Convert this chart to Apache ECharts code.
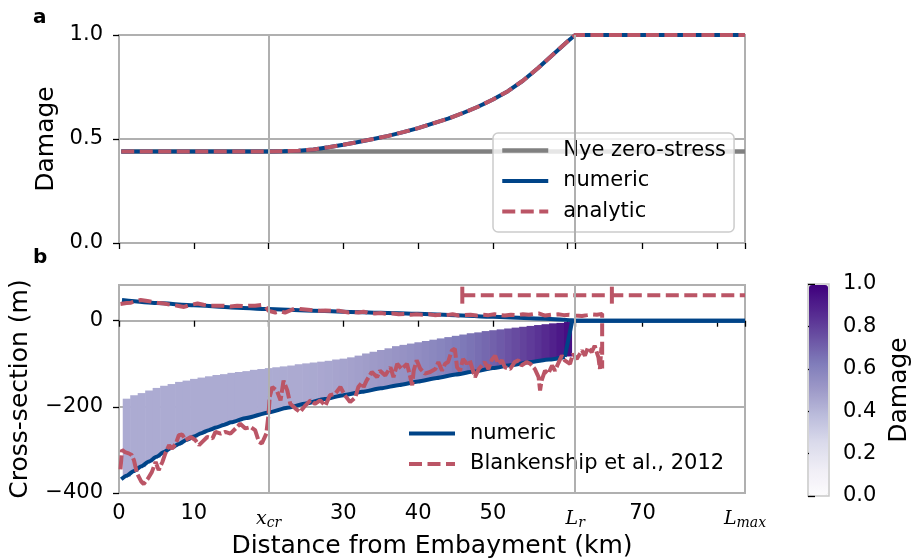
<!DOCTYPE html>
<html>
<head>
<meta charset="utf-8">
<script src="https://cdn.jsdelivr.net/npm/echarts@6/dist/echarts.min.js"></script>
<style>
html, body { margin: 0; padding: 0; background: #fff; }
#chart { width: 923px; height: 560px; }
</style>
</head>
<body>
<div id="chart"></div>
<script>
// x axis: km from embayment, with symbolic ticks
var xMax = 83.7;
var xTickValues = [0, 10, 20, 30, 40, 50, 60, 61, 70, 80, 83.7];
var xLabelValues = [0, 10, 20, 30, 40, 50, 61, 70, 83.7];
var xGridValues = [20, 61];          // x_cr, L_r
var symbolicLabels = { '20': '{i|x}{s|cr}', '61': '{i|L}{s|r}', '83.7': '{i|L}{s|max}' };

// panel a : damage
var damageX       = [0.3, 10, 20, 22, 24, 26, 28, 30, 32, 34, 36, 38, 40, 42, 44, 46, 48, 50, 52, 54, 56, 58, 60, 61, 83.7];
var damageNumeric = [0.44, 0.44, 0.44, 0.441, 0.444, 0.45, 0.46, 0.472, 0.486, 0.50, 0.515, 0.533, 0.552, 0.575, 0.598, 0.625, 0.655, 0.69, 0.73, 0.78, 0.84, 0.905, 0.97, 1.0, 1.0];
var damageAnalytic = [0.44, 0.44, 0.44, 0.441, 0.444, 0.45, 0.46, 0.472, 0.486, 0.50, 0.515, 0.533, 0.552, 0.575, 0.598, 0.625, 0.655, 0.69, 0.73, 0.78, 0.84, 0.905, 0.97, 1.0, 1.0];
var nyeX = [0.3, 83.7];
var nyeDamage = [0.44, 0.44];

// panel b : cross-section (m)
var surfX = [0.4, 5, 10, 15, 20, 25, 30, 35, 40, 45, 50, 55, 59, 60.5, 61, 83.7];
var surfY = [48, 41, 36, 31, 27, 24, 21, 18.5, 16, 13, 9, 6, 3, 1, 0, 0];
var baseX = [0.3, 1, 2, 3, 4, 5, 6, 7, 8, 9, 10, 11, 12, 13, 14, 15, 17, 20, 22.5, 25, 27.5, 30, 32.5, 35, 37.5, 40, 42.5, 45, 47.5, 50, 52.5, 55, 57.5, 59.6];
var baseY = [-368, -360, -349, -338, -327, -316, -305, -295, -286, -277, -269, -261, -254, -248, -242, -236, -226, -213, -202, -192, -182, -173, -165, -157, -149, -141, -133, -125, -118, -110, -103, -96, -90, -84];
var frontX = [59.6, 60.6, 83.7];
var frontY = [-84, 0, 0];

// damaged (crevassed) zone, one column per km
var colWidth = 1;
var fillX = [0.5, 1.5, 2.5, 3.5, 4.5, 5.5, 6.5, 7.5, 8.5, 9.5, 10.5, 11.5, 12.5, 13.5, 14.5, 15.5, 16.5, 17.5, 18.5, 19.5,
  20.5, 21.5, 22.5, 23.5, 24.5, 25.5, 26.5, 27.5, 28.5, 29.5, 30.5, 31.5, 32.5, 33.5, 34.5, 35.5, 36.5, 37.5, 38.5, 39.5,
  40.5, 41.5, 42.5, 43.5, 44.5, 45.5, 46.5, 47.5, 48.5, 49.5, 50.5, 51.5, 52.5, 53.5, 54.5, 55.5, 56.5, 57.5, 58.5, 59.5];
var fillTop = [-181, -173, -168, -162, -156, -151, -147, -142, -139, -135, -132, -129, -126, -124, -121, -119, -117, -114, -112, -110,
  -108, -106, -104, -101, -99, -97, -95, -93, -90, -88, -85, -81, -76, -72, -68, -64, -59, -56, -53, -50,
  -47, -44, -41, -38, -35, -32, -29, -27, -24, -22, -20, -18, -16, -14, -12, -10, -8, -6, -5, -3];
var fillBottom = [-362, -351, -340, -329, -318, -307, -297, -288, -279, -271, -263, -256, -249, -243, -237, -232, -227, -222, -217, -213,
  -209, -205, -201, -197, -193, -189, -185, -181, -178, -174, -171, -167, -164, -160, -157, -154, -151, -148, -145, -142,
  -139, -136, -133, -130, -127, -124, -121, -118, -115, -112, -109, -106, -103, -101, -98, -95, -92, -89, -86, -83];
var fillDamage = [0.44, 0.44, 0.44, 0.44, 0.44, 0.44, 0.44, 0.44, 0.44, 0.44, 0.44, 0.44, 0.44, 0.44, 0.44, 0.44, 0.44, 0.44, 0.44, 0.44,
  0.44, 0.44, 0.442, 0.443, 0.445, 0.448, 0.452, 0.457, 0.463, 0.469, 0.476, 0.483, 0.491, 0.499, 0.507, 0.515, 0.524, 0.534, 0.544, 0.555,
  0.567, 0.579, 0.592, 0.606, 0.620, 0.635, 0.651, 0.668, 0.686, 0.705, 0.725, 0.746, 0.768, 0.791, 0.815, 0.84, 0.866, 0.894, 0.923, 0.955];

// Blankenship et al., 2012 profile
var obsTopX = [0.2, 1.0, 1.6, 2.3, 2.9, 3.8, 5.1, 6.0, 6.9, 7.8, 8.7, 9.6, 10.5, 11.3, 12.2, 13.1, 14.0, 14.9, 15.8, 16.6,
  17.3, 18.2, 19.1, 19.6, 20.0, 20.9, 21.5, 22.2, 22.9, 23.6, 24.2, 24.9, 25.6, 26.2, 26.9, 27.6, 28.7, 29.4, 30.1, 30.7,
  31.4, 32.0, 32.7, 33.4, 34.2, 35.0, 35.8, 36.6, 37.4, 38.2, 39.0, 39.8, 40.6, 41.4, 42.2, 43.0, 43.8, 44.6, 45.4, 46.2,
  47.0, 47.8, 48.6, 49.4, 50.2, 51.0, 51.6, 52.4, 53.2, 54.0, 54.8, 55.6, 56.1, 56.6, 57.0, 57.8, 58.7, 59.5, 60.2, 61.0,
  61.9, 62.6, 63.2, 63.9, 64.6, 64.6];
var obsTopY = [39, 41, 42, 46, 48, 46, 42, 40, 37, 35, 32, 37, 40, 37, 35, 35, 35, 33, 35, 34,
  35, 35, 37, 33, 23, 19, 22, 19, 24, 29, 27, 26, 25, 24, 23, 24, 23, 23, 21, 19,
  20, 19, 21, 18, 17, 18, 16, 17, 15, 16, 14, 15, 14, 15, 13, 14, 13, 15, 12, 13,
  14, 12, 14, 13, 15, 13, 12, 14, 13, 15, 14, 16, 17, 14, 12, 14, 15, 13, 14, 12,
  11, 13, 15, 14, 16, -111];
var obsBaseX = [0.2, 0.4, 0.8, 1.3, 1.7, 2.0, 2.4, 3.0, 3.3, 3.9, 4.4, 4.9, 5.3, 5.8, 6.2, 6.7, 7.1, 7.6, 8.0, 8.45,
  8.9, 9.6, 10.2, 10.7, 11.1, 11.8, 12.5, 12.9, 13.6, 14.2, 14.9, 15.6, 16.2, 16.9, 17.6, 18.2, 18.7, 19.1, 19.7, 20.0,
  20.15, 20.5, 21.1, 21.6, 22.0, 22.5, 22.9, 23.6, 24.2, 24.9, 25.6, 26.2, 26.9, 27.6, 28.2, 28.9, 29.6, 30.2, 30.9, 31.6,
  32.0, 32.5, 32.7, 33.1, 33.8, 34.5, 34.9, 35.6, 36.3, 36.7, 37.2, 37.8, 38.5, 38.9, 39.2, 39.4, 39.8, 40.3, 40.9, 41.6,
  42.3, 42.7, 43.2, 43.6, 44.0, 44.5, 44.9, 45.2, 45.6, 46.0, 46.5, 46.9, 47.6, 48.1, 48.5, 48.9, 49.4, 49.8, 50.3, 50.7,
  51.2, 51.6, 52.3, 52.9, 53.4, 53.8, 54.5, 55.0, 55.6, 56.1, 56.3, 56.5, 56.96, 57.4, 57.9, 58.3, 58.7, 59.2, 59.6, 60.3,
  60.7, 61.2, 61.9, 62.3, 62.7, 63.2, 63.6, 64.1, 64.3, 64.5];
var obsBaseY = [-345, -300, -305, -308, -312, -324, -354, -374, -379, -366, -351, -328, -347, -328, -308, -289, -297, -285, -266, -264,
  -277, -270, -277, -289, -282, -270, -273, -258, -262, -258, -262, -250, -239, -250, -247, -254, -281, -285, -262, -216,
  -177, -154, -162, -185, -139, -162, -193, -204, -212, -197, -185, -193, -185, -197, -173, -170, -154, -173, -189, -178,
  -154, -143, -154, -139, -119, -131, -116, -127, -108, -131, -100, -112, -100, -127, -150, -116, -92, -112, -123, -119,
  -112, -96, -116, -100, -96, -69, -65, -108, -116, -89, -100, -92, -131, -112, -104, -96, -112, -92, -81, -100,
  -92, -108, -112, -96, -92, -104, -96, -100, -112, -131, -162, -139, -116, -123, -104, -116, -100, -81, -92, -100,
  -77, -89, -69, -81, -62, -73, -58, -85, -112, -62];
var obsLineX = [45.9, 65.9, 83.7];
var obsLineY = [59.4, 59.4, 59.4];

var blue = '#004488';
var red = '#BB5566';
var gridGray = '#b0b0b0';
var font = 'DejaVu Sans';
var tickSize = 21;
var titleSize = 25;

function pairs(xs, ys) {
  return xs.map(function (x, i) { return [x, ys[i]]; });
}

function xAxisFor(gridIndex, withLabels) {
  return {
    type: 'value', gridIndex: gridIndex, min: 0, max: xMax,
    axisLine: { show: false },
    splitLine: { show: false },
    axisTick: { show: true, length: 6, customValues: xTickValues, lineStyle: { color: '#000', width: 1.3 } },
    axisLabel: {
      show: withLabels, customValues: xLabelValues, margin: 10,
      fontFamily: font, fontSize: tickSize, color: '#000',
      formatter: function (v) {
        var key = String(Math.round(v * 10) / 10);
        return symbolicLabels[key] || String(v);
      },
      rich: {
        i: { fontFamily: 'DejaVu Serif', fontStyle: 'italic', fontSize: 19, color: '#000', padding: [5, 0, 0, 0] },
        s: { fontFamily: 'DejaVu Serif', fontStyle: 'italic', fontSize: 14, color: '#000', padding: [13, 0, 0, 0] }
      }
    },
    name: withLabels ? 'Distance from Embayment (km)' : '',
    nameLocation: 'middle', nameGap: 41,
    nameTextStyle: { fontFamily: font, fontSize: titleSize, color: '#000' }
  };
}

function yAxisFor(gridIndex, min, max, interval, name, gap, dec) {
  return {
    type: 'value', gridIndex: gridIndex, min: min, max: max, interval: interval,
    axisLine: { show: false },
    axisTick: { show: true, length: 6, customValues: dec.ticks, lineStyle: { color: '#000', width: 1.3 } },
    axisLabel: {
      customValues: dec.ticks, margin: 16, fontFamily: font, fontSize: tickSize, color: '#000',
      formatter: function (v) { return v.toFixed(dec.digits).replace('-', '\u2212'); }
    },
    splitLine: { show: true, lineStyle: { color: gridGray, width: 2 } },
    name: name, nameLocation: 'middle', nameRotate: 90, nameGap: gap,
    nameTextStyle: { fontFamily: font, fontSize: titleSize, color: '#000' }
  };
}

function gridLines() {
  return {
    silent: true, symbol: 'none', label: { show: false },
    lineStyle: { color: gridGray, width: 2, type: 'solid' },
    data: xGridValues.map(function (v) { return { xAxis: v }; })
  };
}

function renderFill(params, api) {
  var x0 = api.value(0);
  var p1 = api.coord([x0, api.value(1)]);
  var p2 = api.coord([x0 + colWidth, api.value(2)]);
  return {
    type: 'rect',
    shape: { x: p1[0], y: p1[1], width: p2[0] - p1[0] + 0.6, height: p2[1] - p1[1] },
    style: { fill: api.visual('color') }
  };
}

var legendText = { fontFamily: font, fontSize: tickSize, lineHeight: 21, color: '#000', padding: [0, 0, 0, 10] };

var chart = echarts.init(document.getElementById('chart'));
var option = {
  animation: false,
  backgroundColor: '#fff',
  textStyle: { fontFamily: font },
  grid: [
    { left: 119, top: 35, width: 626, height: 208, show: true, borderColor: gridGray, borderWidth: 2, backgroundColor: 'transparent' },
    { left: 119, top: 285, width: 626, height: 208, show: true, borderColor: gridGray, borderWidth: 2, backgroundColor: 'transparent' },
    { left: 808, top: 284, width: 21, height: 212, show: true, borderColor: '#c8c8c8', borderWidth: 1.5, backgroundColor: 'transparent' }
  ],
  xAxis: [
    xAxisFor(0, false),
    xAxisFor(1, true),
    { type: 'value', gridIndex: 2, min: 0, max: 1, show: false }
  ],
  yAxis: [
    yAxisFor(0, 0, 1, 0.5, 'Damage', 60, { digits: 1, ticks: [0, 0.5, 1] }),
    yAxisFor(1, -400, 83, 200, 'Cross-section (m)', 86, { digits: 0, ticks: [-400, -200, 0] }),
    {
      type: 'value', gridIndex: 2, min: 0, max: 1, interval: 0.2, position: 'right',
      axisLine: { show: false }, splitLine: { show: false },
      axisTick: { show: true, length: 7, lineStyle: { color: '#000', width: 1.3 } },
      axisLabel: { margin: 14, fontFamily: font, fontSize: tickSize, color: '#000', formatter: function (v) { return v.toFixed(1); } },
      name: 'Damage', nameLocation: 'middle', nameRotate: 90, nameGap: 58,
      nameTextStyle: { fontFamily: font, fontSize: titleSize, color: '#000' }
    }
  ],
  visualMap: {
    type: 'continuous', min: 0, max: 1, seriesIndex: 3, dimension: 3,
    calculable: false, show: true, left: 809, top: 285, itemWidth: 19, itemHeight: 210, padding: 0,
    text: null, hoverLink: false,
    inRange: { color: ['#fcfbfd', '#efedf5', '#dadaeb', '#bcbddc', '#9e9ac8', '#807dba', '#6a51a3', '#54278f', '#3f007d'] }
  },
  legend: [
    {
      data: ['Nye zero-stress', 'numeric', 'analytic'], orient: 'vertical', left: 493, top: 133,
      itemWidth: 46, itemHeight: 12, itemGap: 9.5, padding: [7, 8, 10, 7], selectedMode: false,
      backgroundColor: 'rgba(255,255,255,0.8)', borderColor: '#cccccc', borderWidth: 1.5, borderRadius: 5,
      itemStyle: { opacity: 0 }, lineStyle: { width: 'inherit' },
      textStyle: legendText
    },
    {
      data: ['numeric', 'Blankenship et al., 2012'], orient: 'vertical', left: 407, top: 423,
      itemWidth: 46, itemHeight: 12, itemGap: 9.5, padding: 0, selectedMode: false,
      itemStyle: { opacity: 0 }, lineStyle: { width: 'inherit' },
      textStyle: legendText
    }
  ],
  graphic: [
    { type: 'text', left: 33, top: 8, style: { text: 'a', font: 'bold 20px "DejaVu Sans"', fill: '#000' } },
    { type: 'text', left: 33, top: 248, style: { text: 'b', font: 'bold 20px "DejaVu Sans"', fill: '#000' } }
  ],
  series: [
    {
      name: 'Nye zero-stress', type: 'line', xAxisIndex: 0, yAxisIndex: 0, symbol: 'none', z: 2,
      data: pairs(nyeX, nyeDamage),
      lineStyle: { color: '#808080', width: 4.5 }, itemStyle: { color: '#808080' },
      markLine: gridLines()
    },
    {
      name: 'numeric', type: 'line', xAxisIndex: 0, yAxisIndex: 0, symbol: 'none', z: 3,
      data: pairs(damageX, damageNumeric),
      lineStyle: { color: blue, width: 4 }, itemStyle: { color: blue }
    },
    {
      name: 'analytic', type: 'line', xAxisIndex: 0, yAxisIndex: 0, symbol: 'none', z: 4,
      data: pairs(damageX, damageAnalytic),
      lineStyle: { color: red, width: 4, type: [13, 5.5] }, itemStyle: { color: red }
    },
    {
      name: 'damage zone', type: 'custom', xAxisIndex: 1, yAxisIndex: 1, z: 2,
      renderItem: renderFill, encode: { x: 0, y: [1, 2] },
      data: fillX.map(function (x, i) { return [x, fillTop[i], fillBottom[i], fillDamage[i]]; })
    },
    {
      name: 'numeric', type: 'line', xAxisIndex: 1, yAxisIndex: 1, symbol: 'none', z: 3,
      data: pairs(surfX, surfY), smooth: 0.2, smoothMonotone: 'x',
      lineStyle: { color: blue, width: 4 }, itemStyle: { color: blue },
      markLine: gridLines()
    },
    {
      name: 'numeric', type: 'line', xAxisIndex: 1, yAxisIndex: 1, symbol: 'none', z: 3,
      data: pairs(baseX, baseY), smooth: 0.2, smoothMonotone: 'x',
      lineStyle: { color: blue, width: 4 }, itemStyle: { color: blue }
    },
    {
      name: 'numeric', type: 'line', xAxisIndex: 1, yAxisIndex: 1, symbol: 'none', z: 3,
      data: pairs(frontX, frontY),
      lineStyle: { color: blue, width: 4 }, itemStyle: { color: blue }
    },
    {
      name: 'Blankenship et al., 2012', type: 'line', xAxisIndex: 1, yAxisIndex: 1, symbol: 'none', z: 4,
      data: pairs(obsTopX, obsTopY),
      lineStyle: { color: red, width: 4, type: [13, 5.5] }, itemStyle: { color: red }
    },
    {
      name: 'Blankenship et al., 2012', type: 'line', xAxisIndex: 1, yAxisIndex: 1, symbol: 'none', z: 4,
      data: pairs(obsBaseX, obsBaseY),
      lineStyle: { color: red, width: 4, type: [14, 3] }, itemStyle: { color: red }
    },
    {
      name: 'Blankenship et al., 2012', type: 'line', xAxisIndex: 1, yAxisIndex: 1, z: 4,
      symbol: 'rect', symbolSize: [4, 17], showSymbol: true,
      data: pairs(obsLineX, obsLineY).map(function (p, i) { return i < 2 ? p : { value: p, symbolSize: 0 }; }),
      lineStyle: { color: red, width: 4, type: [13, 5.5] }, itemStyle: { color: red }
    },
    { name: 'colorbar', type: 'line', xAxisIndex: 2, yAxisIndex: 2, data: [], silent: true }
  ]
};
chart.setOption(option);
</script>
</body>
</html>
